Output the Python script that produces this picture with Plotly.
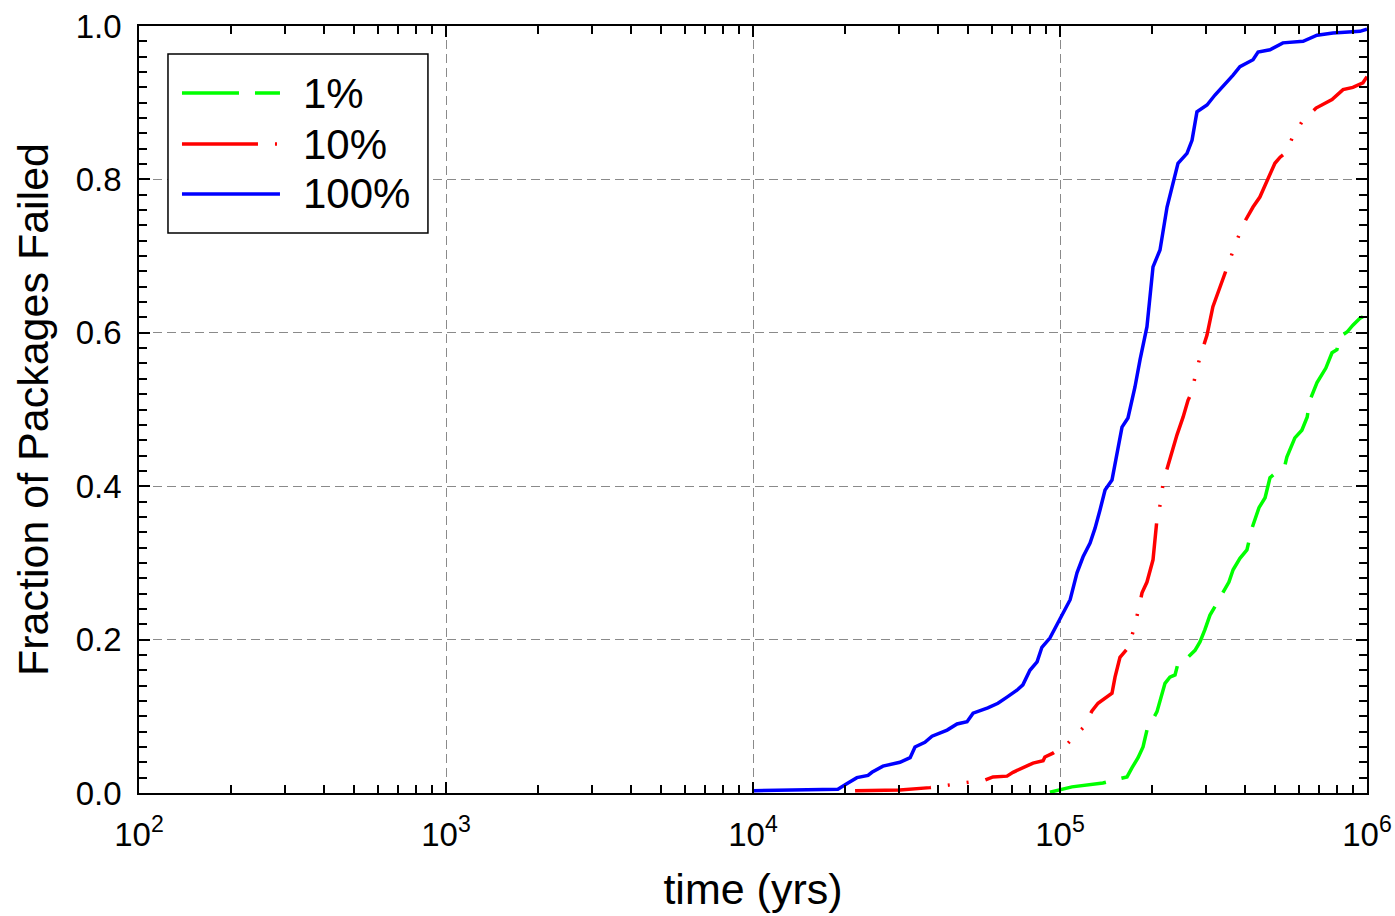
import plotly.graph_objects as go

# ---- data ----
t_100 = [10000, 18900, 20200, 21800, 23700, 24400, 26500, 30100, 32500, 33700, 36300, 38300,
         42900, 46200, 49800, 52100, 58200, 62800, 67200, 72400, 75700, 79800, 84200, 87300,
         92700, 100000, 107900, 113600, 118900, 125300, 130000, 135000, 140200, 147700, 154500,
         159200, 166500, 175400, 182300, 192000, 200900, 211700, 223200, 231700, 242300, 259200,
         269200, 279300, 301200, 319700, 349900, 366300, 385600, 425400, 441700, 483000, 532300,
         619200, 687400, 774800, 948700, 1000000]
f_100 = [0.003, 0.005, 0.012, 0.020, 0.023, 0.027, 0.035, 0.040, 0.046, 0.060, 0.066, 0.074,
         0.082, 0.090, 0.093, 0.104, 0.111, 0.117, 0.125, 0.134, 0.141, 0.160, 0.171, 0.190,
         0.202, 0.226, 0.252, 0.287, 0.308, 0.326, 0.345, 0.369, 0.395, 0.408, 0.447,
         0.477, 0.489, 0.529, 0.565, 0.608, 0.686, 0.708, 0.764, 0.790, 0.821, 0.834,
         0.851, 0.888, 0.897, 0.910, 0.927, 0.936, 0.947, 0.956, 0.966, 0.969, 0.978,
         0.980, 0.988, 0.991, 0.993, 0.996]

t_10 = [21500, 30100, 37700, 43200, 49800, 57000, 60500, 67200, 70300, 75700, 81700, 88100,
        89300, 94900, 106200, 118900, 127100, 133000, 142300, 147700, 151100, 156800, 166500,
        174200, 179600, 185000, 192000, 196400, 200900, 207000, 213300, 216700, 224900, 233300,
        240500, 251700, 261200, 269200, 277300, 287700, 301200, 314800, 331900, 352400, 374100,
        394500, 425400, 447800, 472100, 501200, 521200, 548300, 570200, 613500, 682300, 769100,
        835600, 899500, 970000, 1000000]
f_10 = [0.003, 0.004, 0.007, 0.010, 0.013, 0.017, 0.021, 0.022, 0.027, 0.033, 0.039, 0.042,
        0.047, 0.052, 0.065, 0.085, 0.107, 0.117, 0.125, 0.130, 0.151, 0.177, 0.189,
        0.214, 0.237, 0.261, 0.275, 0.291, 0.304, 0.357, 0.381, 0.405, 0.428, 0.447,
        0.467, 0.490, 0.512, 0.523, 0.549, 0.572, 0.597, 0.634, 0.660, 0.688, 0.717,
        0.741, 0.764, 0.777, 0.799, 0.821, 0.829, 0.836, 0.854, 0.875, 0.893, 0.904,
        0.917, 0.920, 0.926, 0.934]

t_1 = [92700, 109400, 138000, 156800, 165300, 171700, 179600, 186400, 192000, 207000, 211700,
       219800, 228000, 237000, 242300, 251700, 275300, 285700, 296500, 308000, 319700, 331900,
       355000, 366300, 385600, 406300, 421900, 444800, 465600, 483000, 509300, 540800, 548300,
       582100, 613500, 638300, 651600, 687400, 734500, 769100, 798000, 816600, 861000, 899500,
       948700, 970000]
f_1 = [0.001, 0.008, 0.013, 0.018, 0.021, 0.033, 0.046, 0.060, 0.082, 0.106, 0.121,
       0.143, 0.151, 0.154, 0.169, 0.171, 0.186, 0.197, 0.213, 0.232, 0.243, 0.254,
       0.275, 0.291, 0.306, 0.317, 0.345, 0.372, 0.385, 0.411, 0.419, 0.428, 0.438,
       0.463, 0.473, 0.490, 0.512, 0.535, 0.554, 0.574, 0.578, 0.595, 0.601, 0.610,
       0.619, 0.621]

series_names = ["1%", "10%", "100%"]
series_colors = ["#00FF00", "#FF0000", "#0000FF"]
series_dash = ["57px,16px", "76px,17px,2px,17px,2px,17px", "solid"]

x_tickvals = [100, 1000, 10000, 100000, 1000000]
x_ticktext = ["10<sup>2</sup>", "10<sup>3</sup>", "10<sup>4</sup>", "10<sup>5</sup>", "10<sup>6</sup>"]
x_minor = [m * 10 ** e for e in range(2, 6) for m in range(2, 10)]
y_tickvals = [0.0, 0.2, 0.4, 0.6, 0.8, 1.0]
y_ticktext = ["0.0", "0.2", "0.4", "0.6", "0.8", "1.0"]

FONT = "Liberation Sans, Arial, sans-serif"

fig = go.Figure()
for t, f, name, color, dash in zip([t_1, t_10, t_100], [f_1, f_10, f_100],
                                   series_names, series_colors, series_dash):
    fig.add_trace(go.Scatter(x=t, y=f, mode="lines", name=name,
                             line=dict(color=color, width=3.5, dash=dash),
                             showlegend=False))

axis_common = dict(
    showline=True, linecolor="black", linewidth=1.5, mirror="allticks",
    ticks="inside", ticklen=11, tickwidth=1.5, tickcolor="black",
    showgrid=True, gridcolor="#8a8a8a", gridwidth=1, griddash="9px,5px",
    zeroline=False, automargin=False,
    tickfont=dict(family=FONT, size=33, color="black"),
)

fig.update_xaxes(
    type="log", range=[2, 6], tickvals=x_tickvals, ticktext=x_ticktext,
    minor=dict(tickvals=x_minor, ticks="inside", ticklen=8, tickwidth=1.5,
               tickcolor="black", showgrid=False),
    title=dict(text="time (yrs)", font=dict(family=FONT, size=43, color="black"), standoff=22),
    ticklabelstandoff=12,
    **axis_common,
)
fig.update_yaxes(
    range=[0, 1], tickvals=y_tickvals, ticktext=y_ticktext,
    minor=dict(dtick=0.02, ticks="inside", ticklen=8, tickwidth=1.5,
               tickcolor="black", showgrid=False),
    title=dict(text="Fraction of Packages Failed", font=dict(family=FONT, size=43, color="black"),
               standoff=14),
    ticklabelstandoff=9,
    **axis_common,
)

# ---- legend drawn as a box with line samples ----
fig.add_shape(type="rect", xref="paper", yref="paper", x0=0.0236, x1=0.2353, y0=0.730, y1=0.9635,
              line=dict(color="black", width=1.5), fillcolor="white", layer="above")
leg_y = [0.9126, 0.846, 0.781]
for name, color, dash, yy in zip(series_names, series_colors, series_dash, leg_y):
    fig.add_shape(type="line", xref="paper", yref="paper", x0=0.035, x1=0.1148, y0=yy, y1=yy,
                  line=dict(color=color, width=3.5, dash=dash), layer="above")
    fig.add_annotation(xref="paper", yref="paper", x=0.132, y=yy, text=name, showarrow=False,
                       xanchor="left", yanchor="middle",
                       font=dict(family=FONT, size=42, color="black"))

fig.update_layout(
    width=1395, height=916,
    margin=dict(l=139, r=28, t=26, b=123),
    paper_bgcolor="white", plot_bgcolor="white",
    font=dict(family=FONT, color="black"),
)

fig.write_html("out.html")
